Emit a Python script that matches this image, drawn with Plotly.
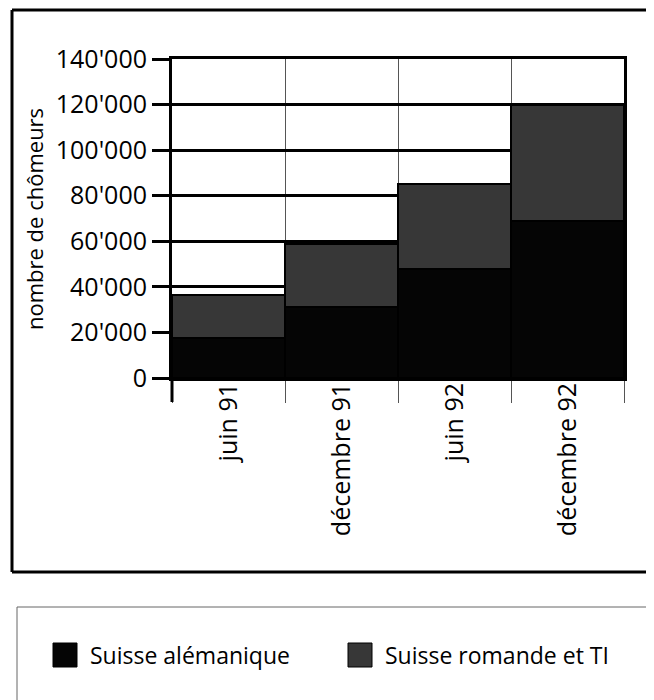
import plotly.graph_objects as go

categories = ["juin 91", "décembre 91", "juin 92", "décembre 92"]
series_names = ["Suisse alémanique", "Suisse romande et TI"]
alemanique = [17500, 31000, 48000, 69000]
romande_ti = [19000, 28000, 37000, 51000]
y_tick_vals = [0, 20000, 40000, 60000, 80000, 100000, 120000, 140000]
y_tick_text = ["0", "20'000", "40'000", "60'000", "80'000", "100'000", "120'000", "140'000"]
y_title = "nombre de chômeurs"
colors = ["#050505", "#373737"]

FONT = "Open Sans"
OFF = 8  # page body margin
W, H = 654 - OFF, 700 - OFF
L, T = 172 - OFF, 59 - OFF
R = W - (624 - OFF)
B = H - (378 - OFF)
PW = W - L - R
PH = H - T - B


def px(x):
    return (x - OFF - L) / PW


def py(y):
    return (H - B - (y - OFF)) / PH


def seg(x0, y0, x1, y1, color, width):
    return dict(type="line", xref="paper", yref="paper", x0=px(x0), x1=px(x1), y0=py(y0), y1=py(y1),
                line=dict(color=color, width=width), layer="above")


fig = go.Figure()
for name, vals, col in zip(series_names, [alemanique, romande_ti], colors):
    fig.add_trace(go.Bar(
        x=categories, y=vals, name=name,
        marker=dict(color=col, line=dict(color="#000000", width=2)),
        showlegend=False,
    ))

shapes = [
    # outer frame (open on the right)
    seg(12, 10, 720, 10, "#000", 3),
    seg(12, 10, 12, 572, "#000", 3),
    seg(12, 572, 720, 572, "#000", 3),
    # legend box (open on the right and bottom)
    seg(17, 607, 720, 607, "#666", 1),
    seg(17, 607, 17, 740, "#666", 1),
    # extension of the y axis below the plot
    dict(type="line", xref="paper", yref="paper", x0=0, x1=0, y0=0, y1=py(402),
         line=dict(color="#000", width=3), layer="above"),
]
annotations = [
    dict(text=y_title, xref="paper", yref="paper", x=px(34), y=py(219), textangle=-90,
         showarrow=False, font=dict(family=FONT, size=22, color="#000"),
         xanchor="center", yanchor="middle"),
]
leg_x = [53, 348]
for name, col, lx in zip(series_names, colors, leg_x):
    shapes.append(dict(type="rect", xref="paper", yref="paper", x0=px(lx), x1=px(lx + 24),
                       y0=py(667), y1=py(643), fillcolor=col, line=dict(color="#000", width=1),
                       layer="above"))
    annotations.append(dict(text=name, xref="paper", yref="paper", x=px(lx + 35), y=py(655),
                            xanchor="left", yanchor="middle", showarrow=False,
                            font=dict(family=FONT, size=23, color="#000")))

fig.update_layout(
    width=W, height=H,
    margin=dict(l=L, r=R, t=T, b=B),
    barmode="stack", bargap=0,
    paper_bgcolor="white", plot_bgcolor="white",
    font=dict(family=FONT, size=22, color="#000"),
    shapes=shapes, annotations=annotations,
    showlegend=False,
)
fig.update_xaxes(
    type="category", tickangle=-90, tickson="boundaries",
    ticks="outside", ticklen=22, tickwidth=1, tickcolor="#555",
    showgrid=True, gridcolor="#555", gridwidth=1,
    showline=True, linecolor="#000", linewidth=3, mirror=True,
    ticklabelstandoff=-8,
    tickfont=dict(family=FONT, size=25, color="#000"),
)
fig.update_yaxes(
    range=[0, 140000], tickvals=y_tick_vals, ticktext=y_tick_text,
    ticks="outside", ticklen=17, tickwidth=3, tickcolor="#000",
    showgrid=True, gridcolor="#000", gridwidth=3,
    showline=True, linecolor="#000", linewidth=3, mirror=True,
    zeroline=False,
    tickfont=dict(family=FONT, size=25, color="#000"),
)

fig.write_html("out.html")
